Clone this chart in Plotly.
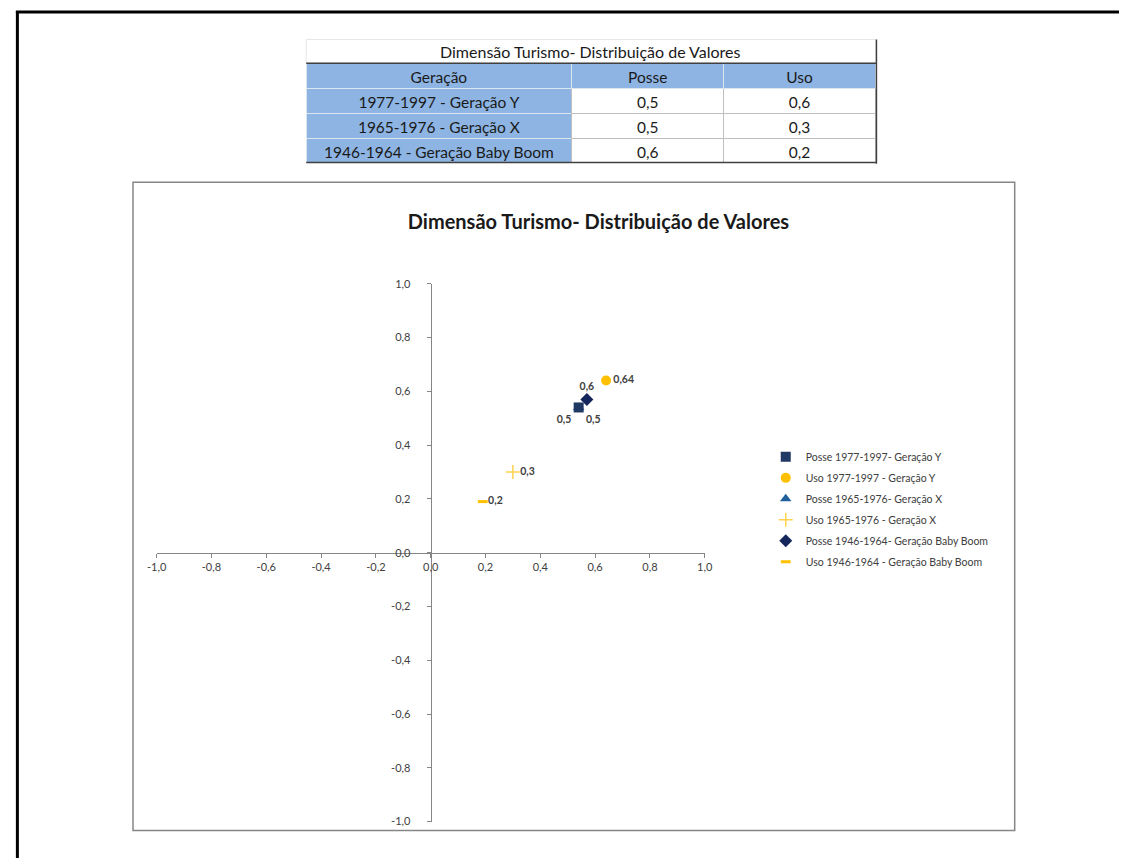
import plotly.graph_objects as go

# ---- data -------------------------------------------------------------
title = "Dimensão Turismo- Distribuição de Valores"
generations = ["1977-1997 - Geração Y", "1965-1976 - Geração X", "1946-1964 - Geração Baby Boom"]
legend_periods = ["1977-1997", "1965-1976", "1946-1964"]
legend_names = ["Geração Y", "Geração X", "Geração Baby Boom"]
posse = [0.54, 0.54, 0.57]
uso = [0.64, 0.30, 0.19]
# decimals used for the data labels on the chart
posse_label_dec = [1, 1, 1]
uso_label_dec = [2, 1, 1]
x_ticks = [-1.0, -0.8, -0.6, -0.4, -0.2, 0.0, 0.2, 0.4, 0.6, 0.8, 1.0]
y_ticks = [-1.0, -0.8, -0.6, -0.4, -0.2, 0.0, 0.2, 0.4, 0.6, 0.8, 1.0]

W, H = 1127, 864
FONT = "Lato"


def px(x):
    return x / W


def py(y):
    return 1 - y / H


def fmt(v, d):
    return f"{v:.{d}f}".replace(".", ",")


fig = go.Figure()

# ---- summary table ----------------------------------------------------
BLUE = "#8DB4E2"
TXT = "#1a1a1a"
fig.add_trace(go.Table(
    domain=dict(x=[px(301), px(880)], y=[py(158), py(57)]),
    columnwidth=[270, 155, 154],
    header=dict(
        values=["Geração", "Posse", "Uso"],
        fill_color=BLUE,
        line=dict(color="#DCE6F1", width=1),
        font=dict(family=FONT, size=15.5, color=TXT),
        align="center",
        height=25,
    ),
    cells=dict(
        values=[generations,
                [fmt(v, 1) for v in posse],
                [fmt(v, 1) for v in uso]],
        fill_color=[[BLUE] * 3, ["white"] * 3, ["white"] * 3],
        line=dict(color=[["#DCE6F1"] * 3, ["#BFBFBF"] * 3, ["#BFBFBF"] * 3], width=1),
        font=dict(family=FONT, size=15.5, color=TXT),
        align="center",
        height=25,
    ),
))

# ---- scatter series ---------------------------------------------------
NAVY = "#1F3864"
GOLD = "#FFC000"
series = [
    # kind, generation index, symbol, colour, text position, value, decimals, legend rank
    ("Posse", 1, "triangle-up", "#215F9A", "bottom right", posse[1], posse_label_dec[1], 3),
    ("Posse", 0, "square", NAVY, "bottom left", posse[0], posse_label_dec[0], 1),
    ("Uso", 0, "circle", GOLD, "middle right", uso[0], uso_label_dec[0], 2),
    ("Uso", 1, "cross-thin", "#FFD24D", "middle right", uso[1], uso_label_dec[1], 4),
    ("Posse", 2, "diamond", "#14265C", "top center", posse[2], posse_label_dec[2], 5),
    ("Uso", 2, "line-ew", GOLD, "middle right", uso[2], uso_label_dec[2], 6),
]

for kind, i, symbol, color, tpos, val, dec, rank in series:
    sep = "- " if kind == "Posse" else " - "
    name = f"{kind} {legend_periods[i]}{sep}{legend_names[i]}"
    marker = dict(symbol=symbol, color=color, size=10)
    if symbol == "cross-thin":
        marker = dict(symbol=symbol, size=10, line=dict(color=color, width=1.5))
    if symbol == "line-ew":
        marker = dict(symbol=symbol, size=7, line=dict(color=color, width=3))
    fig.add_trace(go.Scatter(
        x=[val], y=[val],
        mode="markers+text",
        name=name,
        marker=marker,
        text=[fmt(val, dec)],
        textposition=tpos,
        textfont=dict(family=FONT, size=10.5, color="#404040", weight="bold"),
        legendrank=rank,
        legendgroup=name,
        cliponaxis=False,
    ))

axis_common = dict(
    range=[-1, 1],
    showgrid=False,
    zeroline=False,
    showline=True,
    linecolor="#868686",
    linewidth=1,
    ticks="outside",
    ticklen=4,
    tickcolor="#868686",
    tickfont=dict(family=FONT, size=11, color="#404040"),
    anchor="free",
)

fig.update_layout(
    width=W, height=H,
    margin=dict(l=0, r=0, t=0, b=0),
    paper_bgcolor="white",
    plot_bgcolor="rgba(0,0,0,0)",
    font=dict(family=FONT, color="#404040"),
    title=dict(
        text=f"<b>{title}</b>",
        x=px(598), xref="paper", xanchor="center",
        y=py(218), yref="paper", yanchor="middle",
        font=dict(family=FONT, size=20, color=TXT),
    ),
    xaxis=dict(axis_common, domain=[px(149), px(706)], tickvals=x_ticks,
               ticktext=[fmt(v, 1) for v in x_ticks], position=py(554)),
    yaxis=dict(axis_common, domain=[py(827), py(281)], tickvals=y_ticks,
               ticktext=[fmt(v, 1) for v in y_ticks], position=px(427.5),
               ticklabelstandoff=14),
    legend=dict(
        x=px(768), y=py(442), xanchor="left", yanchor="top",
        font=dict(family=FONT, size=10.5, color="#404040"),
        traceorder="grouped", tracegroupgap=2,
        itemwidth=30,
        bgcolor="rgba(0,0,0,0)",
    ),
)

shapes = [
    # outer black frame (top and left)
    dict(type="line", xref="paper", yref="paper", x0=px(6), x1=1, y0=py(5), y1=py(5),
         line=dict(color="black", width=3)),
    dict(type="line", xref="paper", yref="paper", x0=px(7.5), x1=px(7.5), y0=py(4), y1=0,
         line=dict(color="black", width=3)),
    # chart area border
    dict(type="rect", xref="paper", yref="paper", x0=px(125), x1=px(1021), y0=py(836), y1=py(178),
         line=dict(color="#868686", width=1.5)),
    # table title row and table rules
    dict(type="rect", xref="paper", yref="paper", x0=px(301), x1=px(880), y0=py(57), y1=py(33),
         line=dict(color="#E6E6E6", width=1), fillcolor="white", layer="below"),
    dict(type="line", xref="paper", yref="paper", x0=px(301), x1=px(881), y0=py(57), y1=py(57),
         line=dict(color="#404040", width=1.5)),
    dict(type="line", xref="paper", yref="paper", x0=px(301), x1=px(881), y0=py(158), y1=py(158),
         line=dict(color="#404040", width=1.5)),
    dict(type="line", xref="paper", yref="paper", x0=px(880.5), x1=px(880.5), y0=py(159), y1=py(33),
         line=dict(color="#404040", width=1.5)),
]
fig.update_layout(shapes=shapes)

fig.add_annotation(
    text=title, xref="paper", yref="paper",
    x=px(590), y=py(45), xanchor="center", yanchor="middle",
    showarrow=False, font=dict(family=FONT, size=16, color=TXT),
)

fig.write_html("out.html")
